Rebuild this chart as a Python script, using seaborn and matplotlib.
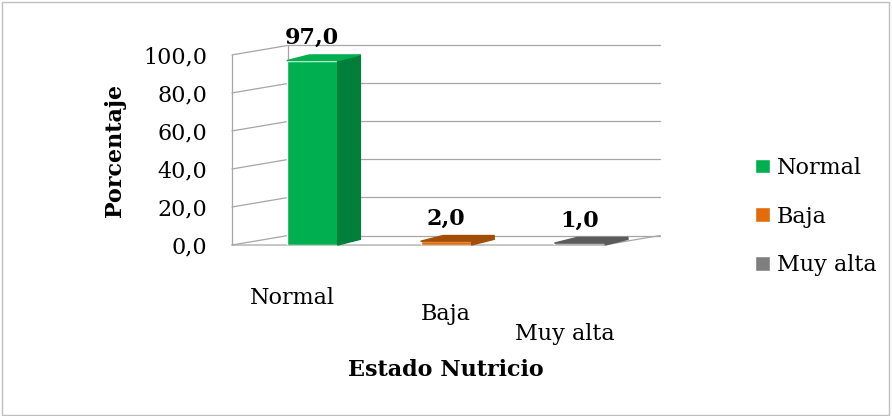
from matplotlib import pyplot as plt
from matplotlib.patches import Polygon, Rectangle
from matplotlib.transforms import ScaledTranslation
import matplotlib.colors as mcolors
import seaborn as sns

categories = ["Normal", "Baja", "Muy alta"]
values = [97.0, 2.0, 1.0]
colors = ["#00B050", "#E36C09", "#7F7F7F"]
y_ticks = [0, 20, 40, 60, 80, 100]

sns.set_style("white")
plt.rcParams["font.family"] = ["DejaVu Serif"]
plt.rcParams["text.color"] = "black"
plt.rcParams["axes.labelcolor"] = "black"
plt.rcParams["xtick.color"] = "black"
plt.rcParams["ytick.color"] = "black"

fig = plt.figure(figsize=(8.92, 4.16), dpi=100)
ax = fig.add_axes([0.26, 0.411, 0.48, 0.457])

sns.barplot(x=categories, y=values, hue=categories, palette=colors,
            dodge=False, width=0.38, legend=True, ax=ax, saturation=1)

ax.set_xlim(-0.6, 2.6)
ax.set_ylim(0, 100)
for s in ax.spines.values():
    s.set_visible(False)

# fake depth: back wall and floor
dxw, dyw = 0.42, 5.0
grid_c = "#A6A6A6"
for t in y_ticks:
    ax.plot([-0.6, -0.6 + dxw], [t, t + dyw], color=grid_c, lw=0.9, clip_on=False, zorder=0)
    ax.plot([-0.6 + dxw, 2.6], [t + dyw, t + dyw], color=grid_c, lw=0.9, clip_on=False, zorder=0)
ax.plot([-0.6, -0.6], [0, 100], color=grid_c, lw=0.9, clip_on=False, zorder=0)
ax.plot([-0.6 + dxw, -0.6 + dxw], [dyw, 100 + dyw], color=grid_c, lw=0.9, clip_on=False, zorder=0)
ax.plot([-0.6, 2.6 - dxw, 2.6, 2.6], [0, 0, dyw, dyw], color=grid_c, lw=0.9, clip_on=False, zorder=0)

# depth faces on each bar
dx, dy = 0.17, 3.0
bars = list(ax.patches)[:len(values)]
for bar, v, c in zip(bars, values, colors):
    x0 = bar.get_x()
    x1 = x0 + bar.get_width()
    dark = [ch * 0.72 for ch in mcolors.to_rgb(c)]
    side = Polygon([(x1, 0), (x1 + dx, dy), (x1 + dx, v + dy), (x1, v)],
                   closed=True, color=dark, clip_on=False, zorder=3)
    top = Polygon([(x0, v), (x0 + dx, v + dy), (x1 + dx, v + dy), (x1, v)],
                  closed=True, color=dark if v < 5 else mcolors.to_rgb(c),
                  clip_on=False, zorder=3)
    ax.add_patch(side)
    ax.add_patch(top)
    ax.text(x0 + bar.get_width() / 2, v + dy + 3, f"{v:.1f}".replace(".", ","),
            ha="center", va="bottom", fontsize=16, fontweight="bold", zorder=5)

ax.set_yticks(y_ticks)
ax.set_yticklabels([f"{t:.1f}".replace(".", ",") for t in y_ticks], fontsize=16)
ax.tick_params(axis="y", length=0, pad=18)
ax.tick_params(axis="x", length=0, pad=30)
ax.set_xticks(range(len(categories)))
ax.set_xticklabels(categories, fontsize=16)
shifts = [(-0.2, 0.0), (0.0, -0.16), (-0.15, -0.36)]
for lab, (sx, sy) in zip(ax.get_xticklabels(), shifts):
    lab.set_transform(lab.get_transform() + ScaledTranslation(sx, sy, fig.dpi_scale_trans))

ax.set_ylabel("Porcentaje", fontsize=16, fontweight="bold", labelpad=12)
ax.set_xlabel("Estado Nutricio", fontsize=16, fontweight="bold", labelpad=10)

leg = ax.legend(loc="center left", bbox_to_anchor=(1.176, 0.15), frameon=False,
                fontsize=16, handlelength=0.65, handleheight=0.65, handletextpad=0.3,
                labelspacing=1.2)

fig.patches.append(Rectangle((0.002, 0.003), 0.995, 0.993, transform=fig.transFigure,
                             fill=False, edgecolor="#BFBFBF", lw=1))

fig.savefig("out.png", dpi=100)
